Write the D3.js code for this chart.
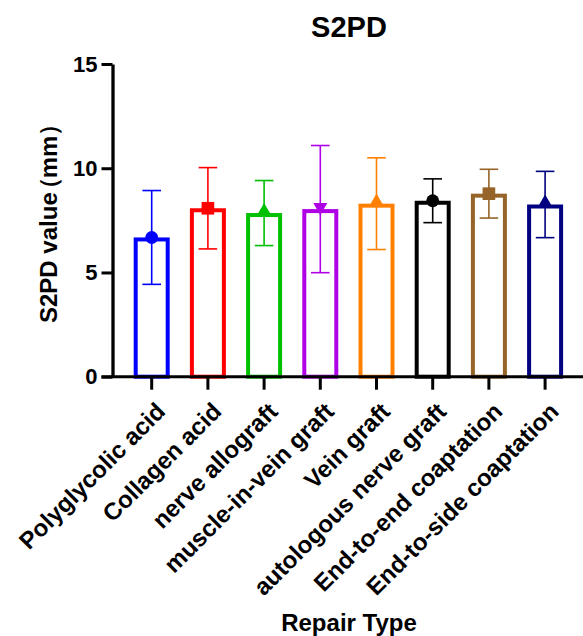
<!DOCTYPE html>
<html>
<head>
<meta charset="utf-8">
<script src="https://cdn.jsdelivr.net/npm/d3@7"></script>
<style>
  html, body { margin: 0; padding: 0; background: #fff; }
  svg { display: block; }
  text { font-family: "Liberation Sans", Arial, sans-serif; font-weight: bold; fill: #000; }
</style>
</head>
<body>
<svg id="chart" width="583" height="636"></svg>
<script>
const categories = ["Polyglycolic acid", "Collagen acid", "nerve allograft", "muscle-in-vein graft",
                    "Vein graft", "autologous nerve graft", "End-to-end coaptation", "End-to-side coaptation"];
const means = [6.68, 8.08, 7.85, 8.04, 8.30, 8.44, 8.78, 8.26];
const sds   = [2.25, 1.95, 1.56, 3.05, 2.20, 1.05, 1.17, 1.59];
const colors = ["#0000ff", "#ff0000", "#00c000", "#b000e6", "#ff8000", "#000000", "#966428", "#000080"];
const symbols = ["circle", "square", "triangle", "triangleDown", "triangle", "circle", "square", "triangle"];
const yTicks = [0, 5, 10, 15];
const title = "S2PD";
const yTitleParts = ["S2PD value", "（", "mm", "）"];
const xTitle = "Repair Type";

const svg = d3.select("#chart");
svg.append("rect").attr("width", 583).attr("height", 636).attr("fill", "#fff");

const y = d3.scaleLinear().domain([0, 15]).range([376.7, 64]);
const x = d3.scaleBand().domain(categories).range([123.6, 573.2]).paddingInner(0).paddingOuter(0);
const axisX = 112.5;
const barHalf = 16, stroke = 4;

// bars
const g = svg.append("g");
categories.forEach((c, i) => {
  const cx = x(c) + x.bandwidth() / 2;
  const col = colors[i];
  g.append("rect")
    .attr("x", cx - barHalf).attr("y", y(means[i]) + stroke / 2)
    .attr("width", barHalf * 2).attr("height", y(0) - y(means[i]) - stroke / 2)
    .attr("fill", "#fff").attr("stroke", col).attr("stroke-width", stroke);
  const top = y(means[i] + sds[i]), bot = y(means[i] - sds[i]);
  const eb = g.append("g").attr("stroke", col).attr("stroke-width", 1.6).attr("fill", "none");
  eb.append("line").attr("x1", cx).attr("x2", cx).attr("y1", top).attr("y2", bot);
  eb.append("line").attr("x1", cx - 9.3).attr("x2", cx + 9.3).attr("y1", top).attr("y2", top);
  eb.append("line").attr("x1", cx - 9.3).attr("x2", cx + 9.3).attr("y1", bot).attr("y2", bot);
  let path;
  const s = symbols[i];
  if (s === "circle") path = d3.symbol(d3.symbolCircle, 130)();
  else if (s === "square") path = d3.symbol(d3.symbolSquare, 160)();
  else path = d3.symbol(d3.symbolTriangle, 85)();
  const rot = s === "triangleDown" ? " rotate(180)" : "";
  const dy = (s === "triangle" || s === "triangleDown") ? -2 : 0;
  g.append("path").attr("d", path)
    .attr("transform", `translate(${cx},${y(means[i]) + dy})${rot}`)
    .attr("fill", col);
});

// x axis line
svg.append("line").attr("x1", 101.5).attr("x2", 583).attr("y1", y(0)).attr("y2", y(0))
  .attr("stroke", "#000").attr("stroke-width", 3);
const xAxis = svg.append("g").attr("transform", `translate(0,${y(0)})`)
  .call(d3.axisBottom(x).tickSize(13).tickSizeOuter(0).tickFormat(""));
xAxis.select(".domain").remove();
xAxis.selectAll(".tick line").attr("stroke", "#000").attr("stroke-width", 3);

// category labels
categories.forEach((c) => {
  const cx = x(c) + x.bandwidth() / 2;
  svg.append("text")
    .attr("transform", `translate(${cx + 15},413) rotate(-45)`)
    .attr("text-anchor", "end")
    .attr("font-size", 24)
    .text(c);
});

// y axis
const yAxis = svg.append("g").attr("transform", `translate(${axisX},0)`)
  .call(d3.axisLeft(y).tickValues(yTicks).tickSize(11).tickSizeOuter(0).tickPadding(4).tickFormat(d3.format("d")));
yAxis.select(".domain").attr("stroke", "#000").attr("stroke-width", 3.3);
yAxis.selectAll(".tick line").attr("stroke", "#000").attr("stroke-width", 3);
yAxis.selectAll(".tick text")
  .attr("font-size", 22).attr("font-family", "'Liberation Sans', Arial, sans-serif")
  .attr("font-weight", "bold").attr("fill", "#000");

// titles
svg.append("text").attr("x", 349).attr("y", 37).attr("text-anchor", "middle")
  .attr("font-size", 29).text(title);
const yt = svg.append("text").attr("transform", `translate(57,323) rotate(-90)`).attr("text-anchor", "start")
  .attr("font-size", 24);
yt.append("tspan").text(yTitleParts[0]);
yt.append("tspan").attr("dx", -9).text(yTitleParts[1]);
yt.append("tspan").attr("dx", -1).text(yTitleParts[2]);
yt.append("tspan").text(yTitleParts[3]);
svg.append("text").attr("x", 349).attr("y", 631).attr("text-anchor", "middle")
  .attr("font-size", 24).text(xTitle);
</script>
</body>
</html>
